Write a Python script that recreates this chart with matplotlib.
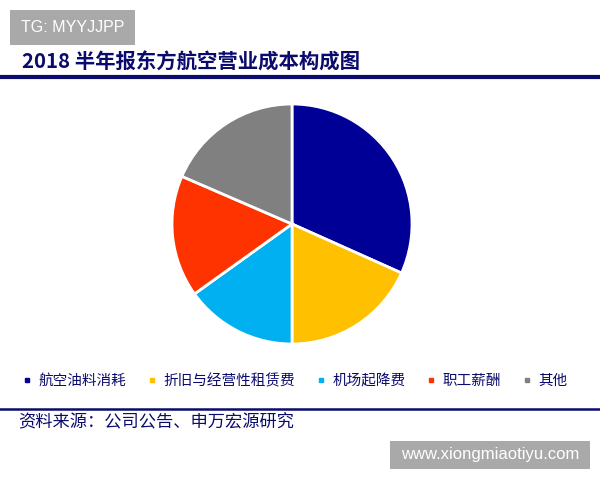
import matplotlib.pyplot as plt
from matplotlib.lines import Line2D
from matplotlib.patches import Rectangle

plt.rcParams['font.family'] = ['Noto Sans CJK SC', 'DejaVu Sans']

categories = ["航空油料消耗", "折旧与经营性租赁费", "机场起降费", "职工薪酬", "其他"]
shares = [31.7, 18.3, 15.1, 16.4, 18.5]
colors = ["#000096", "#FFC000", "#00B0F0", "#FF3300", "#808080"]

navy = "#0B0B6E"

fig = plt.figure(figsize=(6, 4.8), dpi=100)
W, H = 600, 480


def fx(px):
    return px / W


def fy(py):
    return 1 - py / H


# pie
ax = fig.add_axes([fx(172), fy(344), fx(240), 240 / H])
wedges, _ = ax.pie(shares, colors=colors, startangle=90, counterclock=False,
                   wedgeprops=dict(edgecolor="white", linewidth=2))
ax.set_xlim(-1.0, 1.0)
ax.set_ylim(-1.0, 1.0)
ax.set_aspect("equal")

# title + rules
fig.text(fx(22), fy(62), "2018 半年报东方航空营业成本构成图", color=navy,
         fontsize=14.7, fontweight="bold", va="center", ha="left")
fig.add_artist(Line2D([0, 1], [fy(77), fy(77)], transform=fig.transFigure,
                      color=navy, lw=3))
fig.add_artist(Line2D([0, 1], [fy(409), fy(409)], transform=fig.transFigure,
                      color=navy, lw=1.8))

# legend
handles = [Line2D([], [], marker="s", linestyle="", markersize=3.5,
                  markerfacecolor=c, markeredgecolor=c) for c in colors]
leg = fig.legend(handles, categories, ncol=5, loc="center",
                 bbox_to_anchor=(fx(295), fy(381)), frameon=False,
                 handlelength=0.6, handletextpad=0.5, columnspacing=1.45,
                 fontsize=10.5)
for t in leg.get_texts():
    t.set_color(navy)

fig.text(fx(18), fy(422), "资料来源：公司公告、申万宏源研究", color=navy,
         fontsize=12.4, va="center", ha="left")

# watermark boxes
fig.add_artist(Rectangle((fx(10), fy(45)), fx(125), 35 / H, transform=fig.transFigure,
                         facecolor="#A9A9A9", edgecolor="none"))
fig.text(fx(73), fy(27), "TG: MYYJJPP", color="white", fontsize=11.5,
         family="Liberation Sans", ha="center", va="center")
fig.add_artist(Rectangle((fx(390), fy(469)), fx(200), 28 / H, transform=fig.transFigure,
                         facecolor="#A9A9A9", edgecolor="none"))
fig.text(fx(490), fy(455), "www.xiongmiaotiyu.com", color="white", fontsize=12,
         family="Liberation Sans", ha="center", va="center")

fig.savefig("out.png", dpi=100)
